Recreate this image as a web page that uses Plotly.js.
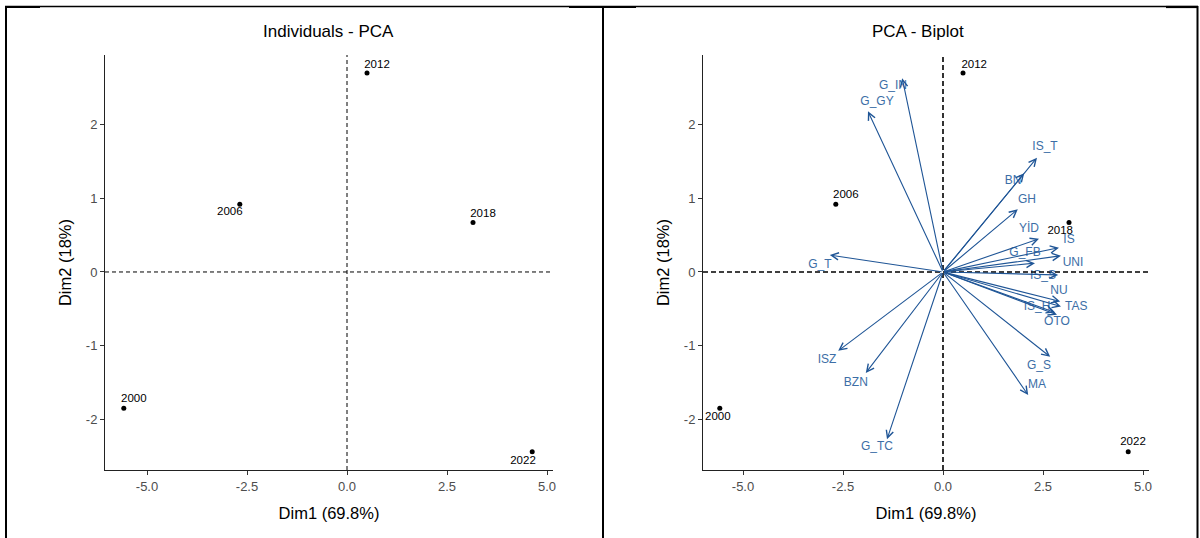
<!DOCTYPE html>
<html>
<head>
<meta charset="utf-8">
<script src="https://cdn.plot.ly/plotly-3.0.1.min.js"></script>
<style>html,body{margin:0;padding:0;background:#fff;}#chart{width:1200px;height:538px;}</style>
</head>
<body>
<div id="chart"></div>
<script>
// ---- data ----
var years = ['2000', '2006', '2012', '2018', '2022'];
var dim1 = [-5.58, -2.68, 0.5, 3.15, 4.63];
var dim2 = [-1.85, 0.92, 2.70, 0.67, -2.44];

// label anchor coordinates (data units) for individuals
var indLabelX_left = [-5.33, -2.93, 0.75, 3.40, 4.40];
var indLabelY_left = [-1.73, 0.81, 2.81, 0.79, -2.57];
var indLabelX_right = [-5.63, -2.43, 0.78, 2.93, 4.75];
var indLabelY_right = [-1.97, 1.04, 2.81, 0.55, -2.31];

var vars = ['G_IN', 'G_GY', 'IS_T', 'BN', 'GH', 'YİD', 'IS', 'G_FB', 'UNI', 'IS_S',
            'NU', 'TAS', 'IS_H', 'OTO', 'G_S', 'MA', 'G_T', 'ISZ', 'BZN', 'G_TC'];
var varX = [-1.02, -1.875, 2.35, 2.03, 1.87, 2.40, 2.90, 2.30, 2.95, 2.88,
            2.93, 2.95, 2.80, 2.85, 2.68, 2.13, -2.83, -2.62, -1.93, -1.40];
var varY = [2.63, 2.18, 1.55, 1.34, 0.85, 0.45, 0.33, 0.12, 0.22, -0.04,
            -0.40, -0.47, -0.55, -0.58, -1.15, -1.67, 0.23, -1.07, -1.37, -2.27];
var varLabelX = [-1.25, -1.65, 2.55, 1.75, 2.10, 2.15, 3.15, 2.05, 3.25, 2.50,
                 2.90, 3.33, 2.35, 2.85, 2.40, 2.35, -3.08, -2.90, -2.18, -1.65];
var varLabelY = [2.52, 2.30, 1.69, 1.23, 0.98, 0.58, 0.44, 0.26, 0.12, -0.05,
                 -0.26, -0.48, -0.48, -0.68, -1.27, -1.54, 0.10, -1.20, -1.50, -2.37];

var xTickVals = [-5, -2.5, 0, 2.5, 5];
var xTickText = ['-5.0', '-2.5', '0.0', '2.5', '5.0'];
var yTickVals = [-2, -1, 0, 1, 2];
var yTickText = ['-2', '-1', '0', '1', '2'];

// ---- geometry helpers ----
var W = 1200, H = 538;
function px(x) { return x / W; }
function py(y) { return 1 - y / H; }

var xRange = [-6.05, 5.15];
var xRange2 = [-6.0, 5.15];
var yRange = [-2.687, 2.944];

var FONT = 'Liberation Sans, Arial, sans-serif';
var arrowColor = '#1f5596';
var varTextColor = '#3c6ea6';

var traces = [
  { x: dim1, y: dim2, xaxis: 'x', yaxis: 'y', mode: 'markers', type: 'scatter',
    marker: { color: '#000', size: 5 }, hoverinfo: 'none', showlegend: false },
  { x: indLabelX_left, y: indLabelY_left, xaxis: 'x', yaxis: 'y', mode: 'text', type: 'scatter',
    text: years, textfont: { family: FONT, size: 11.5, color: '#000' }, hoverinfo: 'none', showlegend: false },
  { x: dim1, y: dim2, xaxis: 'x2', yaxis: 'y2', mode: 'markers', type: 'scatter',
    marker: { color: '#000', size: 5 }, hoverinfo: 'none', showlegend: false },
  { x: indLabelX_right, y: indLabelY_right, xaxis: 'x2', yaxis: 'y2', mode: 'text', type: 'scatter',
    text: years, textfont: { family: FONT, size: 11.5, color: '#000' }, hoverinfo: 'none', showlegend: false },
  { x: varLabelX, y: varLabelY, xaxis: 'x2', yaxis: 'y2', mode: 'text', type: 'scatter',
    text: vars, textfont: { family: FONT, size: 12, color: varTextColor }, hoverinfo: 'none', showlegend: false }
];

function axisX(domain, range, anchor) {
  return {
    domain: domain, range: range, anchor: anchor, showgrid: false, zeroline: false,
    showline: true, linecolor: '#222', linewidth: 1,
    ticks: 'outside', ticklen: 4, tickcolor: '#333', tickwidth: 1,
    tickvals: xTickVals, ticktext: xTickText,
    tickfont: { family: FONT, size: 13, color: '#4d4d4d' },
    title: { text: 'Dim1 (69.8%)', font: { family: FONT, size: 16.5, color: '#000' }, standoff: 14 }
  };
}
function axisY(domain, range, anchor) {
  return {
    domain: domain, range: range, anchor: anchor, showgrid: false, zeroline: false,
    showline: true, linecolor: '#222', linewidth: 1,
    ticks: 'outside', ticklen: 4, tickcolor: '#333', tickwidth: 1,
    tickvals: yTickVals, ticktext: yTickText,
    tickfont: { family: FONT, size: 13, color: '#4d4d4d' },
    title: { text: 'Dim2 (18%)', font: { family: FONT, size: 16.5, color: '#000' }, standoff: 10 }
  };
}

var yDom = [py(470), py(55)];

var shapes = [
  // zero lines, left
  { type: 'line', xref: 'x', yref: 'y', x0: 0, x1: 0, y0: yRange[0], y1: yRange[1],
    line: { color: '#000', width: 1, dash: '4px,3px' } },
  { type: 'line', xref: 'x', yref: 'y', x0: xRange[0], x1: xRange[1], y0: 0, y1: 0,
    line: { color: '#000', width: 1, dash: '4px,3px' } },
  // zero lines, right
  { type: 'line', xref: 'x2', yref: 'y2', x0: 0, x1: 0, y0: yRange[0], y1: yRange[1],
    line: { color: '#000', width: 1.6, dash: '5px,3px' } },
  { type: 'line', xref: 'x2', yref: 'y2', x0: xRange2[0], x1: xRange2[1], y0: 0, y1: 0,
    line: { color: '#000', width: 1.6, dash: '5px,3px' } },
  // frame
  { type: 'line', xref: 'paper', yref: 'paper', x0: px(5), x1: px(1198), y0: py(6.5), y1: py(6.5),
    line: { color: '#000', width: 1.5 } },
  { type: 'line', xref: 'paper', yref: 'paper', x0: px(5), x1: px(40), y0: py(7), y1: py(7),
    line: { color: '#000', width: 2.2 } },
  { type: 'line', xref: 'paper', yref: 'paper', x0: px(569), x1: px(636), y0: py(7), y1: py(7),
    line: { color: '#000', width: 2.2 } },
  { type: 'line', xref: 'paper', yref: 'paper', x0: px(1166), x1: px(1198), y0: py(7), y1: py(7),
    line: { color: '#000', width: 2.2 } },
  { type: 'line', xref: 'paper', yref: 'paper', x0: px(6), x1: px(6), y0: py(6), y1: py(538),
    line: { color: '#000', width: 2 } },
  { type: 'line', xref: 'paper', yref: 'paper', x0: px(603), x1: px(603), y0: py(6), y1: py(538),
    line: { color: '#000', width: 2 } },
  { type: 'line', xref: 'paper', yref: 'paper', x0: px(1197.5), x1: px(1197.5), y0: py(6), y1: py(538),
    line: { color: '#000', width: 2 } }
];

var annotations = [
  { xref: 'paper', yref: 'paper', x: px(328), y: py(32), text: 'Individuals - PCA', showarrow: false,
    font: { family: FONT, size: 17, color: '#000' }, xanchor: 'center', yanchor: 'middle' },
  { xref: 'paper', yref: 'paper', x: px(918), y: py(32), text: 'PCA - Biplot', showarrow: false,
    font: { family: FONT, size: 17, color: '#000' }, xanchor: 'center', yanchor: 'middle' }
];
for (var i = 0; i < vars.length; i++) {
  annotations.push({
    x: varX[i], y: varY[i], xref: 'x2', yref: 'y2',
    ax: 0, ay: 0, axref: 'x2', ayref: 'y2',
    text: '', showarrow: true, arrowhead: 5, arrowsize: 1.3, arrowwidth: 1.1,
    arrowcolor: arrowColor, standoff: 0, startstandoff: 0
  });
}

var layout = {
  width: W, height: H,
  margin: { l: 0, r: 0, t: 0, b: 0, pad: 0 },
  paper_bgcolor: '#fff', plot_bgcolor: '#fff',
  showlegend: false,
  font: { family: FONT },
  xaxis: axisX([px(105), px(553)], xRange, 'y'),
  yaxis: axisY(yDom, yRange, 'x'),
  xaxis2: axisX([px(703), px(1149)], xRange2, 'y2'),
  yaxis2: axisY(yDom, yRange, 'x2'),
  shapes: shapes,
  annotations: annotations
};

Plotly.newPlot('chart', traces, layout, { staticPlot: true, displayModeBar: false });
</script>
</body>
</html>
